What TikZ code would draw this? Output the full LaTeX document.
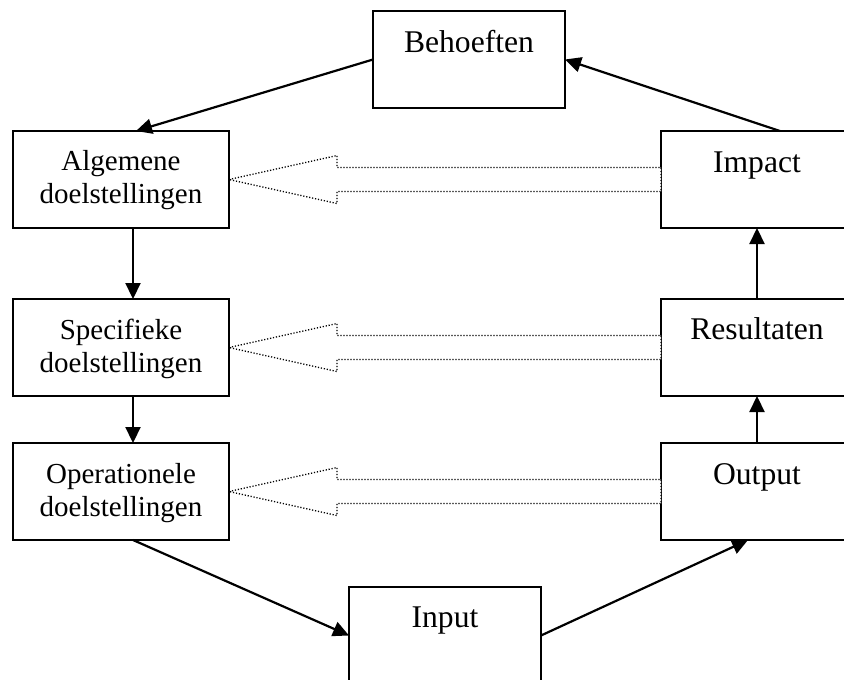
\documentclass[tikz,border=0pt]{standalone}
\usepackage{fontspec}
\setmainfont{Liberation Serif}
\usetikzlibrary{arrows.meta,calc}
\begin{document}
\begin{tikzpicture}[x=1pt,y=-1pt,
  box/.style={draw, line width=2.2pt, minimum width=#1, minimum height=97pt,
    anchor=north west, inner sep=0pt, outer sep=0pt, fill=white},
  box/.default=192pt,
  bigtxt/.style={anchor=base, inner sep=0pt, font=\fontsize{31.6}{36}\selectfont},
  smalltxt/.style={anchor=base, inner sep=0pt, font=\fontsize{29}{33}\selectfont},
  conn/.style={line width=2.2pt, -{Triangle[length=16pt,width=15pt]}},
  hollow/.style={draw, fill=white, line width=1.3pt, dash pattern=on 1.2pt off 1.8pt}
]
\useasboundingbox (0,0) rectangle (844,680);
\clip (0,0) rectangle (844,680);

% boxes
\node[box] (beh) at (373,11) {};
\node[box=216pt] (alg) at (13,131) {};
\node[box=216pt] (spe) at (13,299) {};
\node[box=216pt] (ope) at (13,443) {};
\node[box] (imp) at (661,131) {};
\node[box] (res) at (661,299) {};
\node[box] (out) at (661,443) {};
\node[box] (inp) at (349,587) {};

% texts
\node[bigtxt] (behT) at (469,52) {Behoeften};
\node[bigtxt] (impT) at (757,172) {Impact};
\node[bigtxt] (resT) at (757,339) {Resultaten};
\node[bigtxt] (outT) at (757,484) {Output};
\node[bigtxt] (inpT) at (445,627) {Input};
\node[smalltxt] (algA) at (121,170) {Algemene};
\node[smalltxt] (algB) at (121,203) {doelstellingen};
\node[smalltxt] (speA) at (121,339) {Specifieke};
\node[smalltxt] (speB) at (121,372) {doelstellingen};
\node[smalltxt] (opeA) at (121,483) {Operationele};
\node[smalltxt] (opeB) at (121,516) {doelstellingen};

% solid connectors
\draw[conn] (beh.west) -- ([xshift=15pt]alg.north);
\draw[conn] ([xshift=12pt]alg.south) -- ([xshift=12pt]spe.north);
\draw[conn] ([xshift=12pt]spe.south) -- ([xshift=12pt]ope.north);
\draw[conn] ([xshift=12pt]ope.south) -- (inp.west);
\draw[conn] (inp.east) -- ([xshift=-9pt]out.south);
\draw[conn] (out.north) -- (res.south);
\draw[conn] (res.north) -- (imp.south);
\draw[conn] ([xshift=23pt]imp.north) -- (beh.east);

% hollow dotted arrows
\draw[hollow] (alg.east) -- ++(108,-24) -- ++(0,12) -- ($(imp.west)+(0,-12)$)
  -- ($(imp.west)+(0,12)$) -- ($(alg.east)+(108,12)$) -- ++(0,12) -- cycle;
\draw[hollow] (spe.east) -- ++(108,-24) -- ++(0,12) -- ($(res.west)+(0,-12)$)
  -- ($(res.west)+(0,12)$) -- ($(spe.east)+(108,12)$) -- ++(0,12) -- cycle;
\draw[hollow] (ope.east) -- ++(108,-24) -- ++(0,12) -- ($(out.west)+(0,-12)$)
  -- ($(out.west)+(0,12)$) -- ($(ope.east)+(108,12)$) -- ++(0,12) -- cycle;
\end{tikzpicture}
\end{document}
